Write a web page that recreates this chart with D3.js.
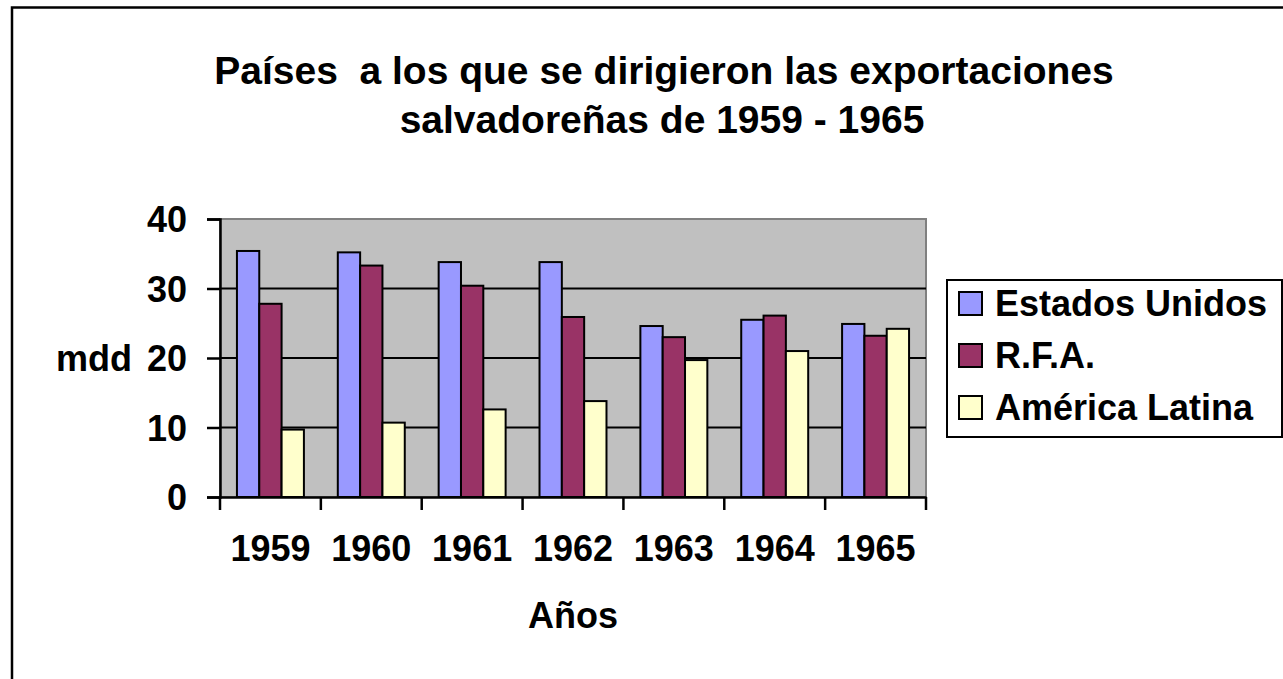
<!DOCTYPE html>
<html>
<head>
<meta charset="utf-8">
<script src="https://cdn.jsdelivr.net/npm/d3@7"></script>
<style>
body { margin: 0; background: #fff; }
text { font-family: "Liberation Sans", Arial, sans-serif; font-weight: bold; fill: #000; }
</style>
</head>
<body>
<svg id="vis" width="1283" height="679"></svg>
<script>
// data
var years = ["1959", "1960", "1961", "1962", "1963", "1964", "1965"];
var seriesNames = ["Estados Unidos", "R.F.A.", "América Latina"];
var estadosUnidos = [35.4, 35.2, 33.8, 33.8, 24.6, 25.5, 24.9];
var rfa = [27.8, 33.3, 30.4, 25.9, 23.0, 26.1, 23.2];
var americaLatina = [9.7, 10.7, 12.6, 13.8, 19.7, 21.0, 24.2];
var yTicks = [0, 10, 20, 30, 40];
var colors = ["#9999FF", "#993366", "#FFFFCC"];

var svg = d3.select("#vis");
var margin = {top: 219, right: 357, bottom: 182, left: 220},
	width = 1283,
	height = 679;

var table = years.map(function(y, i) {
	return {year: y, values: [estadosUnidos[i], rfa[i], americaLatina[i]]};
});

// outer chart frame (runs off the right and bottom of the picture)
svg.append("rect")
	.attr("x", 12).attr("y", 7.5)
	.attr("width", 1400).attr("height", 800)
	.attr("fill", "none").attr("stroke", "#000").attr("stroke-width", 2.5);

var x0 = d3.scaleBand().domain(years)
	.range([margin.left, width - margin.right])
	.paddingInner(0.336).paddingOuter(0.168);
var x1 = d3.scaleBand().domain(d3.range(3)).range([0, x0.bandwidth()]);
var y = d3.scaleLinear().domain([0, 40]).range([height - margin.bottom, margin.top]);

// plot area
svg.append("rect")
	.attr("x", margin.left).attr("y", margin.top)
	.attr("width", width - margin.right - margin.left)
	.attr("height", y(0) - margin.top)
	.attr("fill", "#C0C0C0").attr("stroke", "#808080").attr("stroke-width", 2);

svg.append("g").selectAll("line")
	.data(yTicks.slice(1, -1))
	.enter().append("line")
	.attr("x1", margin.left).attr("x2", width - margin.right)
	.attr("y1", function(d) { return y(d); }).attr("y2", function(d) { return y(d); })
	.attr("stroke", "#000").attr("stroke-width", 2);

// bars
var groups = svg.append("g").selectAll("g")
	.data(table)
	.enter().append("g")
	.attr("transform", function(d) { return "translate(" + x0(d.year) + ",0)"; });

groups.selectAll("rect")
	.data(function(d) { return d.values; })
	.enter().append("rect")
	.attr("x", function(d, i) { return x1(i); })
	.attr("y", function(d) { return y(d); })
	.attr("width", x1.bandwidth())
	.attr("height", function(d) { return y(0) - y(d); })
	.attr("fill", function(d, i) { return colors[i]; })
	.attr("stroke", "#000").attr("stroke-width", 2);

// axes
var yAxis = d3.axisLeft(y).tickValues(yTicks).tickSize(13).tickPadding(20);
var gy = svg.append("g").attr("transform", "translate(" + margin.left + ",0)").call(yAxis);
gy.selectAll("text").style("font-size", "36px").attr("dy", "0.36em");

var xAxis = d3.axisBottom(x0).tickSize(0).tickPadding(38);
var gx = svg.append("g").attr("transform", "translate(0," + y(0) + ")").call(xAxis);
gx.selectAll("text").style("font-size", "36px");

svg.selectAll(".domain").attr("stroke", "#000").attr("stroke-width", 2.5);
svg.selectAll(".tick line").attr("stroke", "#000").attr("stroke-width", 2.5);

// x ticks between categories
var step = x0.step();
svg.append("g").selectAll("line")
	.data(d3.range(years.length + 1))
	.enter().append("line")
	.attr("x1", function(d) { return margin.left + d * step; })
	.attr("x2", function(d) { return margin.left + d * step; })
	.attr("y1", y(0)).attr("y2", y(0) + 13)
	.attr("stroke", "#000").attr("stroke-width", 2.5);

// titles
svg.append("text").attr("x", 664).attr("y", 84)
	.attr("text-anchor", "middle").style("font-size", "39px")
	.style("white-space", "pre")
	.text("Países  a los que se dirigieron las exportaciones");
svg.append("text").attr("x", 662).attr("y", 133)
	.attr("text-anchor", "middle").style("font-size", "39px")
	.text("salvadoreñas de 1959 - 1965");

svg.append("text").attr("x", (margin.left + width - margin.right) / 2).attr("y", 628)
	.attr("text-anchor", "middle").style("font-size", "36px")
	.text("Años");

svg.append("text").attr("x", 132).attr("y", y(20)).attr("dy", "0.36em")
	.attr("text-anchor", "end").style("font-size", "36px")
	.text("mdd");

// legend
var legend = svg.append("g").attr("transform", "translate(947,280)");
legend.append("rect")
	.attr("width", 335).attr("height", 157)
	.attr("fill", "#fff").attr("stroke", "#000").attr("stroke-width", 2);

var items = legend.selectAll("g.item")
	.data(seriesNames)
	.enter().append("g").attr("class", "item")
	.attr("transform", function(d, i) { return "translate(12," + (12 + i * 52) + ")"; });

items.append("rect")
	.attr("width", 23).attr("height", 23)
	.attr("fill", function(d, i) { return colors[i]; })
	.attr("stroke", "#000").attr("stroke-width", 2);

items.append("text")
	.attr("x", 36).attr("y", 24)
	.style("font-size", "36px")
	.text(function(d) { return d; });
</script>
</body>
</html>
